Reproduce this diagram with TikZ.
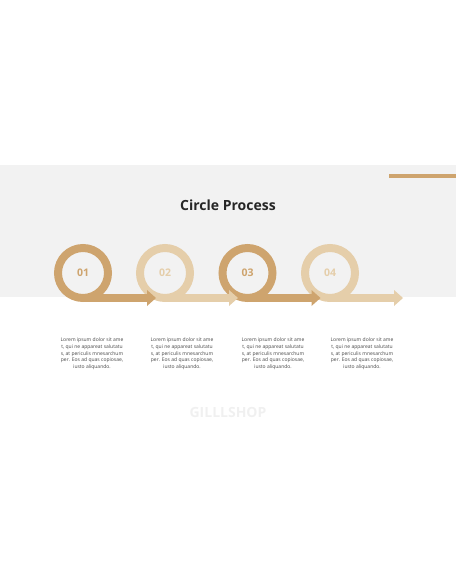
\documentclass[tikz,border=0pt]{standalone}
\usepackage{fontspec}
\setmainfont{Open Sans}
\usetikzlibrary{positioning, arrows.meta}
\definecolor{tandark}{RGB}{206,164,110}
\definecolor{tanlight}{RGB}{229,206,170}
\definecolor{bandgray}{RGB}{242,242,242}
\definecolor{textgray}{RGB}{70,70,70}

\begin{document}
\begin{tikzpicture}[x=1pt, y=-1pt,
    ring/.style={circle, draw=#1, line width=8pt, minimum size=50pt, inner sep=0pt, outer sep=0pt, text=#1, font=\bfseries\fontsize{10.5}{11}\selectfont},
    tail/.style={draw=#1, line width=8pt, -{Triangle[length=9pt, width=16pt, line width=0pt]}},
    blurb/.style={align=center, anchor=north, text=textgray, font=\fontsize{5}{6.6}\selectfont}]
    \useasboundingbox (0,0) rectangle (456,586);
    \fill[bandgray] (0,165) rectangle (456,297);
    \fill[tandark] (389,174) rectangle (456,178);
    \node[font=\bfseries\fontsize{14}{16}\selectfont, text=black!85] (title) at (228,205) {Circle Process};
    % circles
    \node[ring=tandark] (c1) at (83,273) {01};
    \node[ring=tanlight] (c2) at (165,273) {02};
    \node[ring=tandark] (c3) at (247.5,273) {03};
    \node[ring=tanlight] (c4) at (330,273) {04};
    % tails
    \coordinate (t1) at (156,298);
    \coordinate (t2) at (238,298);
    \coordinate (t3) at (320.5,298);
    \coordinate (t4) at (403,298);
    \draw[tail=tandark] (c1.south) -- (t1);
    \draw[tail=tanlight] (c2.south) -- (t2);
    \draw[tail=tandark] (c3.south) -- (t3);
    \draw[tail=tanlight] (c4.south) -- (t4);
    % texts
    \node[blurb] (p1) at (92,334.5) {Lorem ipsum dolor sit ame\\t, qui ne appareat salutatu\\s, at periculis mnesarchum\\per. Eos ad quas copiosae,\\iusto aliquando.};
    \node[blurb] (p2) at (182,334.5) {Lorem ipsum dolor sit ame\\t, qui ne appareat salutatu\\s, at periculis mnesarchum\\per. Eos ad quas copiosae,\\iusto aliquando.};
    \node[blurb] (p3) at (273,334.5) {Lorem ipsum dolor sit ame\\t, qui ne appareat salutatu\\s, at periculis mnesarchum\\per. Eos ad quas copiosae,\\iusto aliquando.};
    \node[blurb] (p4) at (362,334.5) {Lorem ipsum dolor sit ame\\t, qui ne appareat salutatu\\s, at periculis mnesarchum\\per. Eos ad quas copiosae,\\iusto aliquando.};
    \node[font=\bfseries\fontsize{14}{16}\selectfont, text=black!6] (mark) at (228,412) {GILLLSHOP};
\end{tikzpicture}
\end{document}
